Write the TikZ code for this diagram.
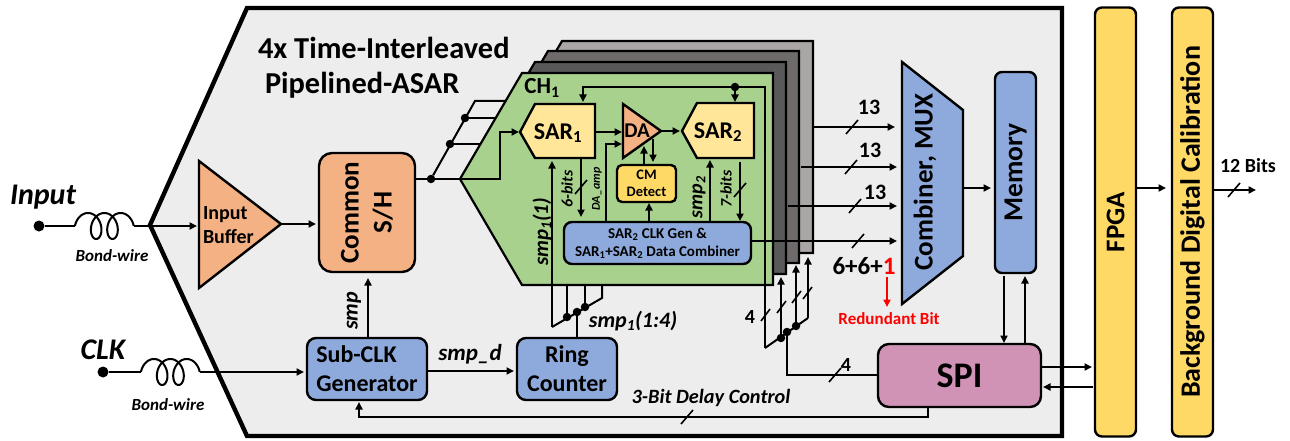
\documentclass[tikz,border=0pt]{standalone}
\usepackage{fontspec}
\setmainfont{Carlito}
\usetikzlibrary{arrows.meta,calc}
\definecolor{chipgray}{HTML}{EDEDED}
\definecolor{chgreen}{HTML}{A9D18E}
\definecolor{sarye}{HTML}{FFE699}
\definecolor{fpgaye}{HTML}{FFD966}
\definecolor{orng}{HTML}{F4B183}
\definecolor{blu}{HTML}{8EA9DB}
\definecolor{spipk}{HTML}{D092B5}
\definecolor{lay2}{HTML}{595959}
\definecolor{lay3}{HTML}{6F6B6B}
\definecolor{lay4}{HTML}{AAA6A6}
\newcommand\fsz[1]{\fontsize{#1}{#1}\selectfont\bfseries}
\newcommand\fsi[1]{\fontsize{#1}{#1}\selectfont\bfseries\itshape}
\newcommand\sbb[1]{\textsubscript{#1}}
\tikzset{
 wire/.style={line width=2pt},
 arr/.style={wire,-{Triangle[length=7.5pt,width=7pt]}},
 dot/.style={circle,fill=black,inner sep=0pt,minimum size=8.5pt,outer sep=0pt},
 bigdot/.style={circle,fill=black,inner sep=0pt,minimum size=11pt,outer sep=0pt},
 shp/.style={draw=black,line width=2.4pt,line join=miter},
 block/.style={draw=black,line width=2.4pt,inner sep=0pt,outer sep=0pt,align=center},
 txt/.style={inner sep=0pt,outer sep=0pt,align=center},
 layer/.style={draw=black,line width=2.2pt},
 tick/.style={line width=1.6pt},
}
\newcommand\bitslash[2]{\draw[tick] ($(#1,#2)+(-6,7)$) -- ($(#1,#2)+(6,-7)$);}
\newcommand\coil[2]{\draw[wire] plot[domain=-90:810,samples=160,smooth] ({#1+9+4+2.6*\x*pi/180+9*sin(\x)},{#2-13*cos(\x)});}
\begin{document}
\begin{tikzpicture}[x=1pt,y=-1pt]
\useasboundingbox (0,0) rectangle (1290,441);
% chip outline
\draw[fill=chipgray,draw=black,line width=4.4pt,line join=miter] (247,8) -- (1062,8) -- (1062,436) -- (247,436) -- (150,225) -- cycle;

% channel input fan
\coordinate (shout) at (415,179);
\node[dot] (fan0) at (431,179) {};
\node[dot] (fan1) at (450,144) {};
\node[dot] (fan2) at (465,118) {};
\coordinate (fan3) at (475,101);
\coordinate (ch3in) at (506,101);
\coordinate (ch2in) at (496,118);
\coordinate (ch1in) at (481,144);
\draw[wire,line join=miter] (ch3in) -- (fan3) -- (fan0);
\draw[wire] (fan2) -- (ch2in);
\draw[wire] (fan1) -- (ch1in);

% stacked channels
\foreach \dx/\dy/\col in {40/-32/lay4,26/-22/lay3,13/-11/lay2}{
 \draw[layer,fill=\col,shift={(\dx,\dy)}] (522,73) -- (773,73) -- (773,285) -- (522,285) -- (460,179) -- cycle;
}
\draw[layer,fill=chgreen] (522,73) -- (773,73) -- (773,285) -- (522,285) -- (460,179) -- cycle;
\node[txt,font=\fsz{23}] (ch) at (542,88) {CH\sbb{1}};

% inner blocks
\draw[shp,fill=sarye] (520,132) -- (535,104) -- (595,104) -- (595,158) -- (535,158) -- cycle;
\node[txt,font=\fsz{24}] (sar1) at (558,133) {SAR\sbb{1}};
\draw[shp,fill=orng] (623,104) -- (661,131) -- (623,158) -- cycle;
\node[txt,font=\fsz{21}] (da) at (637,131) {DA};
\draw[shp,fill=sarye] (682,131) -- (697,103) -- (754,103) -- (754,158) -- (697,158) -- cycle;
\node[txt,font=\fsz{24}] (sar2) at (718,132) {SAR\sbb{2}};
\node[block,fill=fpgaye,rounded corners=5pt,minimum width=59pt,minimum height=37pt,font=\fsz{14.5}] (cm) at (646.5,183.5) {CM\\[3pt]Detect};
\node[block,fill=blu,rounded corners=8pt,minimum width=187pt,minimum height=42pt,font=\fsz{15}] (comb) at (657.5,243) {SAR\sbb{2} CLK Gen \&\\[3pt]SAR\sbb{1}+SAR\sbb{2} Data Combiner};

% inner connectors
\coordinate (a1) at (500,179);
\coordinate (a2) at (500,132);
\coordinate (sar1w) at (519,132);
\draw[arr,line join=miter] (fan0) -- (a1) -- (a2) -- (sar1w);
\draw[wire] (shout) -- (fan0);
\coordinate (sar1e) at (595,132);
\coordinate (dain1) at (622,132);
\draw[arr] (sar1e) -- (dain1);
\coordinate (cb1) at (606,222);
\coordinate (cb1u) at (606,144);
\coordinate (dain2) at (622,144);
\draw[arr,line join=miter] (cb1) -- (cb1u) -- (dain2);
\coordinate (daout) at (661,131);
\coordinate (sar2w) at (680,131);
\draw[arr] (daout) -- (sar2w);
\coordinate (cmt) at (644,165);
\coordinate (dab) at (644,146);
\draw[arr] (cmt) -- (dab);
\coordinate (dab2) at (653,139);
\coordinate (cmt2) at (653,162);
\draw[arr] (dab2) -- (cmt2);
\coordinate (cmb) at (649,222);
\coordinate (cmb2) at (649,203);
\draw[arr] (cmb) -- (cmb2);
\coordinate (s1b) at (581,158);
\coordinate (s1c) at (581,217);
\draw[arr] (s1b) -- (s1c);
\bitslash{581}{187}
\node[txt,font=\fsi{16},rotate=90] (l6) at (567,189) {6-bits};
\node[txt,font=\fsi{12},rotate=90] (lda) at (597,189) {DA\_amp};
\coordinate (s2u) at (710,222);
\coordinate (s2b) at (710,160);
\draw[arr] (s2u) -- (s2b);
\node[txt,font=\fsi{20},rotate=90] (ls2) at (699,197) {smp\sbb{2}};
\coordinate (s2d) at (740,162);
\coordinate (s2e) at (740,221);
\draw[arr] (s2d) -- (s2e);
\bitslash{740}{190}
\node[txt,font=\fsi{16},rotate=90] (l7) at (726,189) {7-bits};
% top bus
\coordinate (busb) at (765,348);
\coordinate (busr) at (765,87);
\coordinate (busl) at (583,87);
\coordinate (sar1t) at (583,102);
\node[dot] (busd) at (735,87) {};
\coordinate (sar2t) at (735,102);
\draw[arr,line join=miter] (busb) -- (busr) -- (busl) -- (sar1t);
\draw[arr] (busd) -- (sar2t);

% channel outputs
\foreach \xa/\ya/\nm/\xb in {814/127/o4/895,801/167/o3/897,788/206/o2/897,751/241/o1/897}{
 \coordinate (\nm a) at (\xa,\ya);
 \coordinate (\nm b) at (\xb,\ya);
 \draw[arr] (\nm a) -- (\nm b);
}
\bitslash{852}{127}
\bitslash{851}{167}
\bitslash{855}{206}
\bitslash{858}{241}
\node[txt,font=\fsz{22}] (n13a) at (869,107) {13};
\node[txt,font=\fsz{22}] (n13b) at (870,150) {13};
\node[txt,font=\fsz{22}] (n13c) at (875,192) {13};
\node[txt,font=\fsz{25}] (n661) at (864,266) {6+6+\textcolor{red}{1}};
\coordinate (ra) at (887,277);
\coordinate (rb) at (887,307);
\draw[arr,red] (ra) -- (rb);
\node[txt,font=\fsz{17},text=red] (rbit) at (889,319) {Redundant Bit};

% Mux, memory
\draw[shp,fill=blu] (902,62) -- (963,110) -- (963,256) -- (902,304) -- cycle;
\node[txt,font=\fsz{27},rotate=90] (mux) at (925,182) {Combiner, MUX};
\node[block,fill=blu,rounded corners=7pt,rotate=90,minimum width=201pt,minimum height=41pt,font=\fsz{27.5}] (mem) at (1015.5,172.5) {Memory};
\coordinate (muxo) at (963,188);
\coordinate (memi) at (991,188);
\draw[arr] (muxo) -- (memi);

% smp1 fan
\node[dot] (b1) at (567,317) {};
\node[dot] (b2) at (577,312) {};
\node[dot] (b3) at (585,307) {};
\coordinate (b0) at (552,327);
\coordinate (b4) at (602,298);
\coordinate (s1in) at (552,161);
\coordinate (b1u) at (567,286);
\coordinate (b3u) at (585,286);
\coordinate (b4u) at (602,286);
\draw[wire,line join=miter] (b4u) -- (b4) -- (b0);
\draw[arr,line join=miter] (b0) -- (s1in);
\draw[wire] (b1) -- (b1u);
\draw[wire] (b3) -- (b3u);
\node[txt,font=\fsi{22}] (ls1) at (633,321) {smp\sbb{1}(1:4)};
\node[txt,font=\fsi{21},rotate=90] (ls11) at (542,232) {smp\sbb{1}(1)};

% SPI fan
\node[dot] (c1) at (781,338) {};
\node[dot] (c2) at (787,332) {};
\node[dot] (c3) at (796,326) {};
\coordinate (c4) at (808,318);
\coordinate (c1u) at (781,277);
\coordinate (c3u) at (796,265);
\coordinate (c4u) at (808,257);
\draw[wire,line join=miter] (busb) -- (c4);
\draw[arr] (c4) -- (c4u);
\draw[arr] (c1) -- (c1u);
\draw[arr] (c3) -- (c3u);
\draw[tick] (761,321) -- (770,309);
\draw[tick] (777,313) -- (786,301);
\draw[tick] (792,303) -- (801,291);
\draw[tick] (803,299) -- (812,287);
\node[txt,font=\fsz{20}] (n4a) at (750,317) {4};

% lower blocks
\node[block,fill=blu,rounded corners=9pt,minimum width=120pt,minimum height=62pt,font=\fsz{24},align=left] (sub) at (367,369) {Sub-CLK\\[5pt]Generator};
\node[block,fill=blu,rounded corners=9pt,minimum width=100pt,minimum height=62pt,font=\fsz{24}] (ring) at (567,369) {Ring\\[5pt]Counter};
\node[block,fill=spipk,rounded corners=11pt,minimum width=163pt,minimum height=63pt,font=\fsz{36}] (spi) at (959.5,375.5) {SPI};
\node[block,fill=orng,rounded corners=13pt,rotate=90,minimum width=119pt,minimum height=96pt,font=\fsz{27}] (sh) at (367,212.5) {Common\\[6pt]S/H};
\draw[shp,fill=orng] (199,161) -- (281,224) -- (199,288) -- cycle;
\node[txt,font=\fsz{20},align=left,anchor=west] (buf) at (203,225) {Input\\[4pt]Buffer};

\coordinate (subt) at (368,278);
\coordinate (subtop) at (368,338);
\draw[arr] (subtop) -- (subt);
\node[txt,font=\fsi{22},rotate=90] (lsmp) at (354,311) {smp};
\coordinate (sube) at (427,371);
\coordinate (ringw) at (514,371);
\draw[arr] (sube) -- (ringw);
\node[txt,font=\fsi{23}] (lsmpd) at (470,354) {smp\_d};
\coordinate (ringt) at (577,338);
\draw[wire] (b2) -- (ringt);

\coordinate (bufo) at (281,224);
\coordinate (shw) at (316,224);
\draw[arr] (bufo) -- (shw);

% memory - SPI
\coordinate (md1) at (1004,276);
\coordinate (md2) at (1004,343);
\draw[arr] (md1) -- (md2);
\coordinate (mu1) at (1025,344);
\coordinate (mu2) at (1025,276);
\draw[arr] (mu1) -- (mu2);

% SPI connections
\coordinate (spil) at (878,375);
\coordinate (spic) at (787,375);
\draw[wire,line join=miter] (spil) -- (spic) -- (c2);
\bitslash{835}{375}
\node[txt,font=\fsz{20}] (n4b) at (846,365) {4};
\coordinate (spib) at (928,407);
\coordinate (spibc) at (928,417);
\coordinate (subbc) at (359,417);
\coordinate (subb) at (359,402);
\draw[arr,line join=miter] (spib) -- (spibc) -- (subbc) -- (subb);
\bitslash{687}{417}
\node[txt,font=\fsi{20.3}] (ldc) at (711,398) {3-Bit Delay Control};

% input pins
\node[bigdot] (inp) at (39,226) {};
\coordinate (inp1) at (75,226);
\coordinate (inp2) at (134,226);
\coordinate (apx) at (150,226);
\coordinate (bufi) at (197,226);
\coil{75}{226}
\draw[wire] (inp) -- (inp1);
\draw[line width=2.6pt] (inp2) -- (apx);
\draw[arr] (apx) -- (bufi);
\node[txt,font=\fsi{30}] (linp) at (43,197) {Input};
\node[txt,font=\fsi{17}] (lbw1) at (112,256) {Bond-wire};
\node[bigdot] (clk) at (103,372) {};
\coordinate (clk1) at (141,372);
\coordinate (clk2) at (200,372);
\coordinate (subw) at (304,372);
\coil{141}{372}
\draw[wire] (clk) -- (clk1);
\draw[arr] (clk2) -- (subw);
\node[txt,font=\fsi{30}] (lclk) at (103,350) {CLK};
\node[txt,font=\fsi{17}] (lbw2) at (168,405) {Bond-wire};

% title
\node[txt,font=\fsz{30.4},anchor=west] (t1) at (258,48) {4x Time-Interleaved};
\node[txt,font=\fsz{30.4},anchor=west] (t2) at (265,85) {Pipelined-ASAR};

% FPGA and calibration
\node[block,fill=fpgaye,rounded corners=7pt,rotate=90,minimum width=429pt,minimum height=41pt,font=\fsz{27}] (fpga) at (1115.5,222) {FPGA};
\node[block,fill=fpgaye,rounded corners=7pt,rotate=90,minimum width=429pt,minimum height=41pt,font=\fsz{28}] (cal) at (1192.5,222) {Background Digital Calibration};
\coordinate (spif) at (1041,367);
\coordinate (fpi) at (1092,367);
\draw[arr] (spif) -- (fpi);
\coordinate (fpo) at (1093,387);
\coordinate (spir) at (1043,387);
\draw[arr] (fpo) -- (spir);
\coordinate (fo) at (1136,188);
\coordinate (ci) at (1166,188);
\draw[arr] (fo) -- (ci);
\coordinate (co) at (1213,190);
\coordinate (out) at (1256,190);
\draw[arr] (co) -- (out);
\bitslash{1234}{190}
\node[txt,font=\fsz{20}] (bits) at (1248,166) {12 Bits};
\end{tikzpicture}
\end{document}
